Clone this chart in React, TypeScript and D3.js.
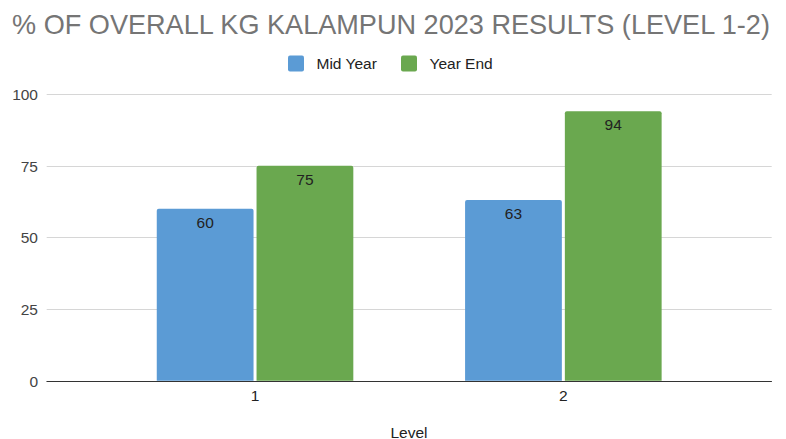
import { useRef, useEffect } from 'react'
import * as d3 from 'd3'

const levels = ['1', '2']
const seriesNames = ['Mid Year', 'Year End']
const midYear = [60, 63]
const yearEnd = [75, 94]
const yTicks = [0, 25, 50, 75, 100]
const seriesColors = ['#5b9bd5', '#6aa84f']

const W = 786
const H = 439
const FONT = "Arial, 'Liberation Sans', sans-serif"

export default function App() {
  const svgRef = useRef<SVGSVGElement | null>(null)

  useEffect(() => {
    const svg = d3.select(svgRef.current)
    svg.selectAll('*').remove()

    const left = 46.7
    const right = 771.7
    const top = 94
    const bottom = 380.7

    const y = d3.scaleLinear().domain([0, 100]).range([bottom, top])
    const x0 = d3.scaleBand().domain(levels).range([left, right]).paddingInner(0.3625).paddingOuter(0.357)
    const x1 = d3.scaleBand().domain(seriesNames).range([0, x0.bandwidth()]).paddingInner(0.03)

    // title
    svg.append('text')
      .attr('x', 391)
      .attr('y', 34)
      .attr('text-anchor', 'middle')
      .attr('fill', '#757575')
      .attr('font-size', '27.1px')
      .attr('font-family', FONT)
      .text('% OF OVERALL KG KALAMPUN 2023 RESULTS (LEVEL 1-2)')

    // legend
    const legendX = [288, 401]
    seriesNames.forEach((name, i) => {
      svg.append('rect')
        .attr('x', legendX[i])
        .attr('y', 55.5)
        .attr('width', 16)
        .attr('height', 16)
        .attr('rx', 2)
        .attr('fill', seriesColors[i])
      svg.append('text')
        .attr('x', legendX[i] + 28.5)
        .attr('y', 68.7)
        .attr('fill', '#222')
        .attr('font-size', '15.5px')
        .attr('font-family', FONT)
        .text(name)
    })

    // gridlines + y labels
    yTicks.forEach((t) => {
      svg.append('line')
        .attr('x1', left)
        .attr('x2', right)
        .attr('y1', Math.round(y(t)) + 0.5)
        .attr('y2', Math.round(y(t)) + 0.5)
        .attr('stroke', t === 0 ? '#333' : '#d6d6d6')
        .attr('stroke-width', 1)
      svg.append('text')
        .attr('x', 38)
        .attr('y', y(t) + 6)
        .attr('text-anchor', 'end')
        .attr('fill', '#444')
        .attr('font-size', '15.5px')
        .attr('font-family', FONT)
        .text(t)
    })

    const values = [midYear, yearEnd]
    const g = svg.append('g')
    levels.forEach((lv, li) => {
      seriesNames.forEach((s, si) => {
        const v = values[si][li]
        const bx = (x0(lv) as number) + (x1(s) as number)
        const bw = x1.bandwidth()
        const by = y(v)
        const h = y(0) - by
        const r = 2
        g.append('path')
          .attr('d', `M${bx},${by + h}V${by + r}Q${bx},${by} ${bx + r},${by}H${bx + bw - r}Q${bx + bw},${by} ${bx + bw},${by + r}V${by + h}Z`)
          .attr('fill', seriesColors[si])
        g.append('text')
          .attr('x', bx + bw / 2)
          .attr('y', by + 19)
          .attr('text-anchor', 'middle')
          .attr('fill', '#222')
          .attr('font-size', '15.5px')
          .attr('font-family', FONT)
          .text(v)
      })
    })

    // redraw baseline over bars
    svg.append('line')
      .attr('x1', left)
      .attr('x2', right)
      .attr('y1', Math.round(y(0)) + 0.5)
      .attr('y2', Math.round(y(0)) + 0.5)
      .attr('stroke', '#333')

    // x labels
    levels.forEach((lv) => {
      svg.append('text')
        .attr('x', (x0(lv) as number) + x0.bandwidth() / 2)
        .attr('y', 400.5)
        .attr('text-anchor', 'middle')
        .attr('fill', '#222')
        .attr('font-size', '15.5px')
        .attr('font-family', FONT)
        .text(lv)
    })

    svg.append('text')
      .attr('x', 409)
      .attr('y', 437.5)
      .attr('text-anchor', 'middle')
      .attr('fill', '#222')
      .attr('font-size', '15.5px')
      .attr('font-family', FONT)
      .text('Level')
  }, [])

  return (
    <svg
      ref={svgRef}
      width={W}
      height={H}
      style={{ position: 'fixed', left: 0, top: 0, background: '#fff', display: 'block' }}
    />
  )
}
